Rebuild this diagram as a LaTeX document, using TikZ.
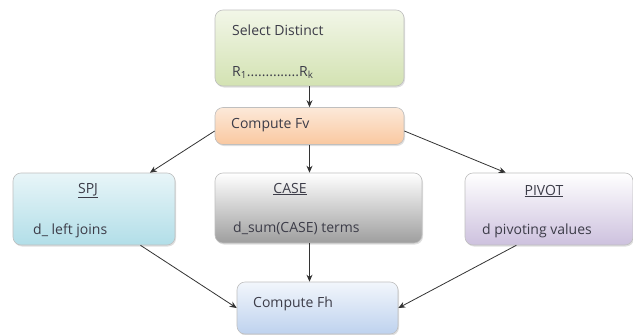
\documentclass[tikz,border=0pt]{standalone}
\usepackage{fontspec}
\setmainfont{Open Sans}
\usetikzlibrary{shadows,arrows.meta}

\definecolor{selbot}{RGB}{211,226,178}
\definecolor{fvbot}{RGB}{249,200,160}
\definecolor{spjbot}{RGB}{178,222,232}
\definecolor{casebot}{RGB}{158,158,158}
\definecolor{pivbot}{RGB}{205,193,222}
\definecolor{fhbot}{RGB}{190,210,238}
\definecolor{txtgray}{RGB}{60,60,72}

\begin{document}
\begin{tikzpicture}[x=1pt, y=-1pt,
    box/.style={draw=black!25, line width=0.6pt, rounded corners=8pt, inner sep=0pt,
      drop shadow={opacity=0.25, shadow xshift=1pt, shadow yshift=-1.5pt}},
    txt/.style={text=txtgray, font=\fontsize{14}{16}\selectfont, inner sep=0pt},
    arr/.style={-{Stealth[length=7pt,width=6pt]}, line width=0.8pt, black!80}]
    \useasboundingbox (0,0) rectangle (633,335);
    % boxes
    \node[box, top color=white!70!selbot, bottom color=selbot, minimum width=189pt, minimum height=76pt] (sel) at (309.5,48) {};
    \node[box, top color=white!60!fvbot, bottom color=fvbot, minimum width=189pt, minimum height=37pt] (fv) at (309.5,126) {};
    \node[box, top color=white!70!spjbot, bottom color=spjbot, minimum width=162pt, minimum height=72pt] (spj) at (94,209) {};
    \node[box, top color=white, bottom color=casebot, minimum width=207pt, minimum height=70pt] (case) at (318.5,208) {};
    \node[box, top color=white, bottom color=pivbot, minimum width=168pt, minimum height=72pt] (pivot) at (549,209) {};
    \node[box, top color=white!80!fhbot, bottom color=fhbot, minimum width=161pt, minimum height=52pt] (fh) at (317.5,308) {};
    % texts
    \node[txt, anchor=base west] (seltitle) at (232,35) {Select Distinct};
    \node[txt, anchor=base west] (selrel) at (232,76) {R\textsubscript{1}..............R\textsubscript{k}};
    \node[txt, anchor=base west] (fvtext) at (231,128) {Compute Fv};
    \node[txt, anchor=base] (spjtitle) at (88,193) {\underline{SPJ}};
    \node[txt, anchor=base west] (spjtext) at (33,234) {d\_ left joins};
    \node[txt, anchor=base] (casetitle) at (290,193) {\underline{CASE}};
    \node[txt, anchor=base west] (casetext) at (233,232) {d\_sum(CASE) terms};
    \node[txt, anchor=base] (pivtitle) at (544,195) {\underline{PIVOT}};
    \node[txt, anchor=base west] (pivtext) at (482,234) {d pivoting values};
    \node[txt, anchor=base west] (fhtext) at (253,307) {Compute Fh};
    % arrows
    \draw[arr] (sel.south) -- (fv.north);
    \draw[arr] (fv.183) -- (spj.33);
    \draw[arr] (fv.south) -- (fv.south |- case.north);
    \draw[arr] (fv.357) -- (pivot.140);
    \draw[arr] (spj.322) -- (fh.west);
    \draw[arr] (case.south -| fv.south) -- (fh.north -| fv.south);
    \draw[arr] (pivot.228) -- (fh.east);
\end{tikzpicture}
\end{document}
